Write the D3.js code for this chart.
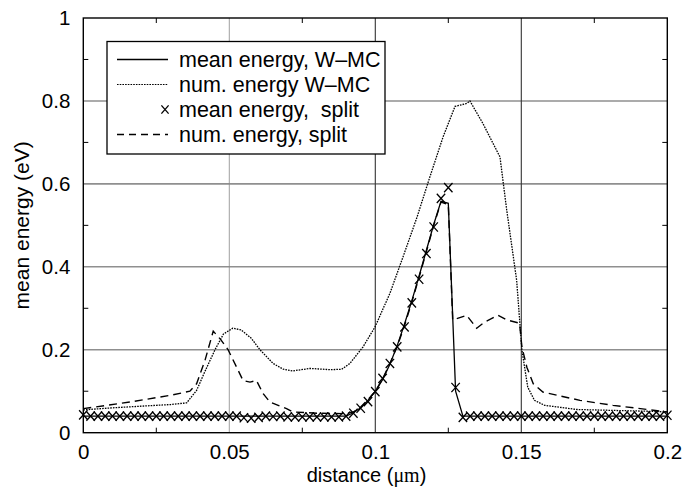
<!DOCTYPE html>
<html>
<head>
<meta charset="utf-8">
<script src="https://cdn.jsdelivr.net/npm/d3@7"></script>
<style>
body { margin: 0; background: #fff; }
svg text { font-family: "Liberation Sans", Arial, Helvetica, sans-serif; fill: #000; }
</style>
</head>
<body>
<svg id="chart" width="684" height="488"></svg>
<script>
// sampling grid of the split / W-MC mean energies (µm)
const gridX = [
    0, 0.0025, 0.005, 0.0075, 0.01, 0.0125, 0.015, 0.0175, 0.02, 0.0225,
    0.025, 0.0275, 0.03, 0.0325, 0.035, 0.0375, 0.04, 0.0425, 0.045, 0.0475,
    0.05, 0.0525, 0.055, 0.0575, 0.06, 0.0625, 0.065, 0.0675, 0.07, 0.0725,
    0.075, 0.0775, 0.08, 0.0825, 0.085, 0.0875, 0.09, 0.0925, 0.095, 0.0975,
    0.1, 0.1025, 0.105, 0.1075, 0.11, 0.1125, 0.115, 0.1175, 0.12, 0.1225,
    0.125, 0.1275, 0.13, 0.1325, 0.135, 0.1375, 0.14, 0.1425, 0.145, 0.1475,
    0.15, 0.1525, 0.155, 0.1575, 0.16, 0.1625, 0.165, 0.1675, 0.17, 0.1725,
    0.175, 0.1775, 0.18, 0.1825, 0.185, 0.1875, 0.19, 0.1925, 0.195, 0.1975,
    0.2
];

// mean energy, split (x markers)
const splitMean = [
    0.043, 0.04, 0.04, 0.04, 0.04, 0.04, 0.04, 0.04, 0.04, 0.04,
    0.04, 0.04, 0.04, 0.04, 0.04, 0.04, 0.04, 0.04, 0.04, 0.04,
    0.04, 0.04, 0.036, 0.035, 0.037, 0.04, 0.039, 0.04, 0.038, 0.038,
    0.038, 0.038, 0.038, 0.038, 0.038, 0.038, 0.04, 0.047, 0.059, 0.075,
    0.099, 0.131, 0.167, 0.207, 0.255, 0.313, 0.37, 0.432, 0.496, 0.565,
    0.591, 0.109, 0.037, 0.04, 0.04, 0.04, 0.04, 0.04, 0.04, 0.04,
    0.04, 0.04, 0.04, 0.04, 0.04, 0.04, 0.04, 0.04, 0.04, 0.04,
    0.04, 0.04, 0.04, 0.04, 0.04, 0.04, 0.04, 0.04, 0.04, 0.04,
    0.042
];

// mean energy, W-MC (solid)
const wmcMean = [
    0.04, 0.04, 0.04, 0.04, 0.04, 0.04, 0.04, 0.04, 0.04, 0.04,
    0.04, 0.04, 0.04, 0.04, 0.04, 0.04, 0.04, 0.04, 0.04, 0.04,
    0.04, 0.04, 0.04, 0.04, 0.04, 0.04, 0.04, 0.04, 0.04, 0.04,
    0.04, 0.04, 0.04, 0.04, 0.04, 0.04, 0.04, 0.048, 0.06, 0.078,
    0.1, 0.128, 0.165, 0.21, 0.262, 0.318, 0.378, 0.44, 0.502, 0.558,
    0.553, 0.1, 0.04, 0.04, 0.04, 0.04, 0.04, 0.04, 0.04, 0.04,
    0.04, 0.04, 0.04, 0.04, 0.04, 0.04, 0.04, 0.04, 0.04, 0.04,
    0.04, 0.04, 0.04, 0.04, 0.04, 0.04, 0.04, 0.04, 0.04, 0.04,
    0.04
];

// num. energy W-MC (dotted)
const wmcNumX = [0, 0.01, 0.02, 0.03, 0.0354, 0.0388, 0.0418, 0.0451, 0.048, 0.0512, 0.054,
    0.0575, 0.0605, 0.065, 0.0685, 0.0718, 0.0776, 0.0845, 0.0885, 0.0913, 0.0958,
    0.0999, 0.105, 0.1095, 0.1143, 0.1187, 0.1232, 0.1273, 0.1314, 0.1324, 0.1369,
    0.1416, 0.1427, 0.145, 0.1484, 0.1502, 0.1522, 0.1545, 0.158, 0.169, 0.18, 0.192, 0.2];
const wmcNumY = [0.055, 0.06, 0.064, 0.068, 0.072, 0.102, 0.15, 0.2, 0.238, 0.252, 0.248,
    0.228, 0.2, 0.167, 0.153, 0.149, 0.155, 0.152, 0.153, 0.167, 0.207,
    0.255, 0.336, 0.424, 0.52, 0.617, 0.713, 0.787, 0.794, 0.8, 0.745,
    0.68, 0.665, 0.537, 0.368, 0.2, 0.11, 0.078, 0.066, 0.056, 0.054, 0.052, 0.05];

// num. energy, split (dashed)
const splitNumX = [0, 0.016, 0.0297, 0.0365, 0.0388, 0.0417, 0.0445, 0.047, 0.0496, 0.0525,
    0.0547, 0.0571, 0.0593, 0.0616, 0.0639, 0.0696, 0.0718, 0.08, 0.09, 0.0925,
    0.095, 0.0975, 0.1, 0.1025, 0.105, 0.1075, 0.11, 0.1125, 0.115, 0.1175,
    0.12, 0.1225, 0.125, 0.1265, 0.1313, 0.1347, 0.1375, 0.142, 0.145, 0.1478,
    0.1494, 0.1502, 0.1519, 0.1541, 0.1574, 0.1701, 0.1814, 0.1931, 0.2];
const splitNumY = [0.058, 0.074, 0.09, 0.1, 0.118, 0.175, 0.245, 0.225, 0.2, 0.158,
    0.126, 0.122, 0.126, 0.094, 0.074, 0.058, 0.05, 0.047, 0.046, 0.05,
    0.062, 0.08, 0.1, 0.13, 0.167, 0.208, 0.258, 0.315, 0.375, 0.437,
    0.5, 0.556, 0.55, 0.272, 0.283, 0.252, 0.267, 0.283, 0.272, 0.267,
    0.264, 0.207, 0.158, 0.118, 0.098, 0.078, 0.066, 0.056, 0.05];

const xTicks = [0, 0.05, 0.1, 0.15, 0.2];
const yTicks = [0, 0.2, 0.4, 0.6, 0.8, 1];
const xMinor = [0.025, 0.075, 0.125, 0.175];
const yMinor = [0.1, 0.3, 0.5, 0.7, 0.9];

const legendItems = [
    { label: "mean energy, W\u2013MC", kind: "solid" },
    { label: "num. energy W\u2013MC", kind: "dotted" },
    { label: "mean energy,  split", kind: "marker" },
    { label: "num. energy, split", kind: "dashed" }
];

const svg = d3.select("#chart");
const pLeft = 83.3, pRight = 667.3, pTop = 18, pBottom = 432.7;

const x = d3.scaleLinear().domain([0, 0.2]).range([pLeft, pRight]);
const y = d3.scaleLinear().domain([0, 1]).range([pBottom, pTop]);

svg.append("rect").attr("width", 684).attr("height", 488).attr("fill", "#fff");

// grid
svg.append("g").selectAll("line")
    .data([0.2, 0.4, 0.6, 0.8])
    .enter().append("line")
    .attr("x1", pLeft).attr("x2", pRight)
    .attr("y1", d => y(d)).attr("y2", d => y(d))
    .attr("stroke", "#8f8f8f").attr("stroke-width", 1.6);

svg.append("g").selectAll("line")
    .data([0.05, 0.1, 0.15])
    .enter().append("line")
    .attr("x1", d => x(d)).attr("x2", d => x(d))
    .attr("y1", pTop).attr("y2", pBottom)
    .attr("stroke", d => d === 0.05 ? "#888" : "#333")
    .attr("stroke-width", d => d === 0.05 ? 0.8 : 1.1);

// minor ticks (inward, all four sides)
const tk = svg.append("g").attr("stroke", "#000").attr("stroke-width", 1);
yMinor.forEach(v => {
    tk.append("line").attr("x1", pLeft).attr("x2", pLeft + 5).attr("y1", y(v)).attr("y2", y(v));
    tk.append("line").attr("x1", pRight).attr("x2", pRight - 5).attr("y1", y(v)).attr("y2", y(v));
});
xMinor.forEach(v => {
    tk.append("line").attr("x1", x(v)).attr("x2", x(v)).attr("y1", pBottom).attr("y2", pBottom - 5);
    tk.append("line").attr("x1", x(v)).attr("x2", x(v)).attr("y1", pTop).attr("y2", pTop + 5);
});

// tick labels through d3 axes
const xAxis = svg.append("g")
    .attr("transform", `translate(0,${pBottom})`)
    .call(d3.axisBottom(x).tickValues(xTicks).tickSize(0).tickPadding(12).tickFormat(d => String(d)));
const yAxis = svg.append("g")
    .attr("transform", `translate(${pLeft},0)`)
    .call(d3.axisLeft(y).tickValues(yTicks).tickSize(0).tickPadding(13).tickFormat(d => String(d)));
[xAxis, yAxis].forEach(a => {
    a.attr("font-family", null).attr("font-size", null);
    a.select(".domain").remove();
    a.selectAll("text").attr("font-size", 20.5).attr("fill", "#000");
});

// curves
const line = d3.line().x(d => x(d[0])).y(d => y(d[1]));
const plot = svg.append("g").attr("fill", "none").attr("stroke", "#000");

plot.append("path")
    .attr("d", line(gridX.map((v, i) => [v, wmcMean[i]])))
    .attr("stroke-width", 1.3);

plot.append("path")
    .attr("d", line(wmcNumX.map((v, i) => [v, wmcNumY[i]])))
    .attr("stroke-width", 1.3)
    .attr("stroke-dasharray", "1.6,1.1");

plot.append("path")
    .attr("d", line(splitNumX.map((v, i) => [v, splitNumY[i]])))
    .attr("stroke-width", 1.4)
    .attr("stroke-dasharray", "8,5");

function cross(g, cx, cy, w, h) {
    g.append("path")
        .attr("d", `M${cx - w},${cy - h}L${cx + w},${cy + h}M${cx - w},${cy + h}L${cx + w},${cy - h}`)
        .attr("stroke", "#000").attr("stroke-width", 1.3).attr("fill", "none");
}
const marks = svg.append("g");
gridX.forEach((v, i) => cross(marks, x(v), y(splitMean[i]), 4.2, 4.6));

// frame
svg.append("rect")
    .attr("x", pLeft).attr("y", pTop)
    .attr("width", pRight - pLeft).attr("height", pBottom - pTop)
    .attr("fill", "none").attr("stroke", "#000").attr("stroke-width", 1.4);

// legend
const lg = svg.append("g");
lg.append("rect")
    .attr("x", 107).attr("y", 41.5).attr("width", 278).attr("height", 112.5)
    .attr("fill", "#fff").attr("stroke", "#000").attr("stroke-width", 1.3);

legendItems.forEach((item, i) => {
    const cy = 59.5 + i * 25;
    if (item.kind === "marker") {
        cross(lg, 165, cy, 3.6, 4.2);
    } else {
        const l = lg.append("line")
            .attr("x1", 117).attr("x2", 168).attr("y1", cy).attr("y2", cy)
            .attr("stroke", "#000");
        if (item.kind === "solid") l.attr("stroke-width", 1.3);
        if (item.kind === "dotted") l.attr("stroke-width", 1.2).attr("stroke-dasharray", "1.6,1.1");
        if (item.kind === "dashed") l.attr("stroke-width", 1.4).attr("stroke-dasharray", "7,5");
    }
    lg.append("text")
        .attr("x", 179).attr("y", cy).attr("dy", "0.36em")
        .attr("font-size", 21.5)
        .style("white-space", "pre")
        .text(item.label);
});

// axis titles
svg.append("text")
    .attr("transform", `translate(22,${(pTop + pBottom) / 2}) rotate(-90)`)
    .attr("text-anchor", "middle").attr("dy", "0.35em")
    .attr("font-size", 21)
    .text("mean energy (eV)");

const xt = svg.append("text")
    .attr("x", 366.5).attr("y", 482)
    .attr("text-anchor", "middle")
    .attr("font-size", 20);
xt.append("tspan").text("distance (");
xt.append("tspan").attr("font-family", "'Liberation Serif', 'Times New Roman', serif").text("\u03bcm");
xt.append("tspan").text(")");
</script>
</body>
</html>
